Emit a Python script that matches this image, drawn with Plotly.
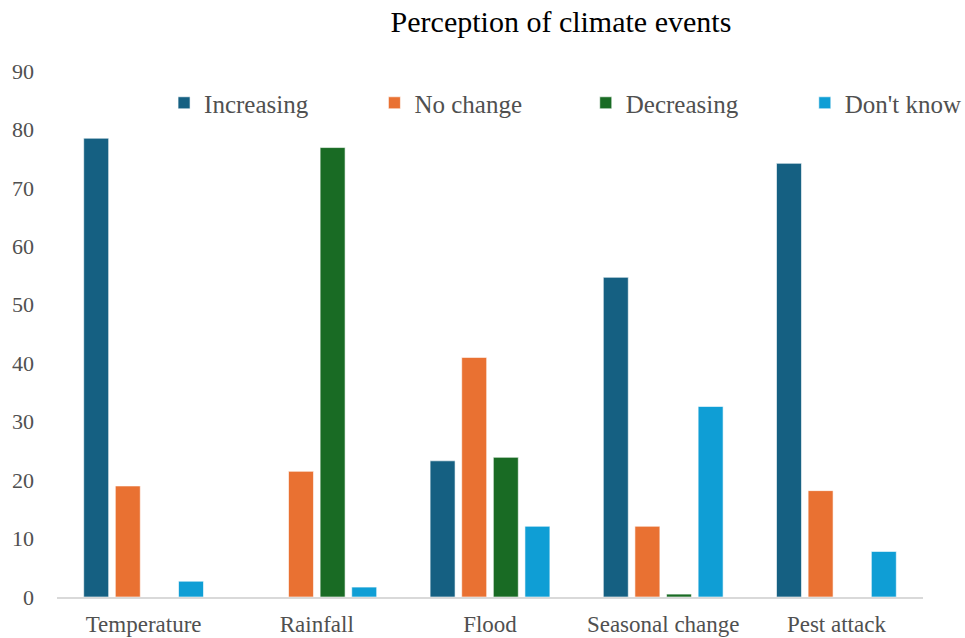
import plotly.graph_objects as go

categories = ["Temperature", "Rainfall", "Flood", "Seasonal change", "Pest attack"]
increasing = [78.5, 0, 23.3, 54.7, 74.2]
no_change = [19.0, 21.5, 41.0, 12.1, 18.2]
decreasing = [0, 76.9, 23.9, 0.5, 0]
dont_know = [2.7, 1.7, 12.1, 32.6, 7.8]

series = [
    ("Increasing", increasing, "#156082"),
    ("No change", no_change, "#E97132"),
    ("Decreasing", decreasing, "#196B24"),
    ("Don't know", dont_know, "#0F9ED5"),
]
legend_ids = ["legend", "legend2", "legend3", "legend4"]
legend_x = [0.170, 0.388, 0.607, 0.834]

font_family = "Liberation Serif, Times New Roman, serif"
text_color = "#505050"

fig = go.Figure()
for (name, vals, color), lid in zip(series, legend_ids):
    fig.add_trace(go.Bar(
        x=categories, y=vals, name=name, legend=lid,
        marker=dict(color=color, line=dict(color="rgba(255,255,255,0.6)", width=1)),
    ))

legend_common = dict(orientation="h", xanchor="left", xref="container",
                     y=0.8385, yanchor="middle", yref="container",
                     font=dict(family=font_family, size=25, color=text_color),
                     bgcolor="rgba(0,0,0,0)")
layout_legends = {}
for lid, lx in zip(legend_ids, legend_x):
    layout_legends[lid] = dict(x=lx, **legend_common)

fig.update_layout(
    width=965, height=638,
    paper_bgcolor="white", plot_bgcolor="white",
    margin=dict(l=57, r=42, t=71, b=41, autoexpand=False),
    barmode="group", bargap=0.27, bargroupgap=0.21,
    title=dict(text="Perception of climate events", x=0.5813, xanchor="center",
               y=0.966, yanchor="middle",
               font=dict(family=font_family, size=30, color="black")),
    font=dict(family=font_family, size=22, color=text_color),
    showlegend=True,
    **layout_legends,
)
fig.update_xaxes(showline=True, linecolor="#d9d9d9", linewidth=2, ticks="",
                 showgrid=False, automargin=False, ticklabelstandoff=5,
                 tickfont=dict(size=23, color=text_color))
fig.update_yaxes(range=[0, 90], dtick=10, showgrid=False, zeroline=False,
                 showline=False, ticks="", ticklabelstandoff=22, automargin=False,
                 tickfont=dict(size=22, color=text_color))

fig.write_html("out.html", config={"displayModeBar": False},
               post_script="document.body.style.margin='0';")
